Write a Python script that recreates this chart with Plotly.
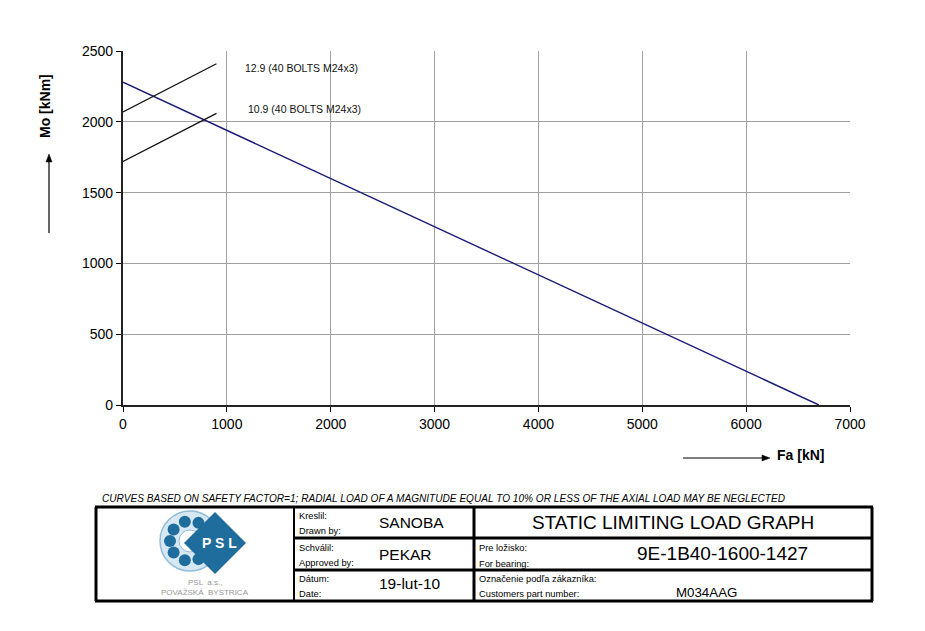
import math
import plotly.graph_objects as go

# ---- data ----
fa_limit = [0, 6700]
mo_limit = [2280, 0]
fa_129 = [0, 900]
mo_129 = [2070, 2410]
fa_109 = [0, 900]
mo_109 = [1720, 2060]
label_129 = "12.9 (40 BOLTS M24x3)"
label_109 = "10.9 (40 BOLTS M24x3)"
x_ticks = [0, 1000, 2000, 3000, 4000, 5000, 6000, 7000]
y_ticks = [0, 500, 1000, 1500, 2000, 2500]

W, H = 925, 631
OFF = 8  # page body margin
L, R, T, B = 123, 850, 51, 405  # plot area in window pixels
FONT = "Liberation Sans, Arial, sans-serif"
BLUE = "#1f6d9c"


def px(x):
    return (x - L) / (R - L)


def py(y):
    return (B - y) / (B - T)


fig = go.Figure()
fig.add_trace(go.Scatter(x=fa_limit, y=mo_limit, mode="lines",
                         line=dict(color="#1a1a78", width=1.4), showlegend=False, hoverinfo="skip"))
fig.add_trace(go.Scatter(x=fa_129, y=mo_129, mode="lines",
                         line=dict(color="#111111", width=1.3), showlegend=False, hoverinfo="skip"))
fig.add_trace(go.Scatter(x=fa_109, y=mo_109, mode="lines",
                         line=dict(color="#111111", width=1.3), showlegend=False, hoverinfo="skip"))

shapes = []
ann = []

# curve labels
ann.append(dict(x=1160, y=2380, xref="x", yref="y", text=label_129, showarrow=False,
                xanchor="left", yanchor="middle", font=dict(size=10.5, family=FONT, color="#111")))
ann.append(dict(x=1180, y=2090, xref="x", yref="y", text=label_109, showarrow=False,
                xanchor="left", yanchor="middle", font=dict(size=10.5, family=FONT, color="#111")))


def txt(x, y, s, size, anchor="left", color="#000", angle=0):
    ann.append(dict(x=px(x), y=py(y), xref="paper", yref="paper", text=s, showarrow=False,
                    xanchor=anchor, yanchor="middle", textangle=angle,
                    font=dict(size=size, family=FONT, color=color)))


# axis titles
txt(45, 106, "<b>Mo [kNm]</b>", 14, "center", angle=-90)
txt(775, 455, "<b>Fa [kN]</b>", 14, "left")

# arrows
shapes.append(dict(type="line", xref="paper", yref="paper", x0=px(49), y0=py(233), x1=px(49), y1=py(162),
                   line=dict(color="#000", width=1.2)))
shapes.append(dict(type="path", xref="paper", yref="paper",
                   path=f"M {px(46)},{py(162)} L {px(52)},{py(162)} L {px(49)},{py(154)} Z",
                   fillcolor="#000", line=dict(color="#000", width=0.5)))
shapes.append(dict(type="line", xref="paper", yref="paper", x0=px(683), y0=py(458), x1=px(762), y1=py(458),
                   line=dict(color="#000", width=1.2)))
shapes.append(dict(type="path", xref="paper", yref="paper",
                   path=f"M {px(762)},{py(455)} L {px(762)},{py(461)} L {px(770)},{py(458)} Z",
                   fillcolor="#000", line=dict(color="#000", width=0.5)))

# note
txt(100, 499, "<i>CURVES BASED ON SAFETY FACTOR=1; RADIAL LOAD OF A MAGNITUDE EQUAL TO 10% OR LESS OF THE AXIAL LOAD MAY BE NEGLECTED</i>", 10.1)

# ---- title block ----
TX0, TX1, TY0, TY1 = 96, 872, 507, 601
C1, C2 = 294, 474
RY1, RY2 = 538, 570


def hline(x0, x1, y, w):
    shapes.append(dict(type="line", xref="paper", yref="paper", x0=px(x0), x1=px(x1), y0=py(y), y1=py(y),
                       line=dict(color="#000", width=w)))


def vline(x, y0, y1, w):
    shapes.append(dict(type="line", xref="paper", yref="paper", x0=px(x), x1=px(x), y0=py(y0), y1=py(y1),
                       line=dict(color="#000", width=w)))


hline(TX0 - 1, TX1 + 1, TY0, 3)
hline(TX0 - 1, TX1 + 1, TY1, 3)
vline(TX0, TY0, TY1, 3)
vline(TX1, TY0, TY1, 3)
vline(C1, TY0, TY1, 2)
vline(C2, TY0, TY1, 3)
hline(C1, TX1, RY1, 3)
hline(C1, TX1, RY2, 3)

SM = 9.3
txt(297, 516, "Kreslil:", SM)
txt(297, 531, "Drawn by:", SM)
txt(411, 522, "SANOBA", 15.5, "center")
txt(297, 548, "Schválil:", SM)
txt(297, 563, "Approved by:", SM)
txt(405, 554, "PEKAR", 15.5, "center")
txt(297, 579, "Dátum:", SM)
txt(297, 594, "Date:", SM)
txt(410, 584, "19-lut-10", 15.5, "center")
txt(673, 522, "STATIC LIMITING LOAD GRAPH", 19, "center")
txt(477, 548, "Pre ložisko:", SM)
txt(477, 564, "For bearing:", SM)
txt(722, 553, "9E-1B40-1600-1427", 19, "center")
txt(477, 579, "Označenie podľa zákazníka:", SM)
txt(477, 594, "Customers part number:", SM)
txt(706, 592, "M034AAG", 13.3, "center")


# ---- logo ----
def circ(cx, cy, r, fill, line_color=None, lw=0):
    shapes.append(dict(type="circle", xref="paper", yref="paper",
                       x0=px(cx - r), x1=px(cx + r), y0=py(cy + r), y1=py(cy - r),
                       fillcolor=fill, line=dict(color=line_color or fill, width=lw)))


rcx, rcy = 190, 541
circ(rcx, rcy, 30, "#d8e8f3", "#8fbcd9", 1.5)
for ang in [65, 105, 145, 180, 215, 255, 295]:
    a = math.radians(ang)
    circ(rcx + 20 * math.cos(a), rcy - 20 * math.sin(a), 6, BLUE)
circ(rcx, rcy, 11, "#ffffff", "#8fbcd9", 1)
dcx, dcy, dr = 215, 543, 31
shapes.append(dict(type="path", xref="paper", yref="paper",
                   path=f"M {px(dcx - dr)},{py(dcy)} L {px(dcx)},{py(dcy - dr)} L {px(dcx + dr)},{py(dcy)} L {px(dcx)},{py(dcy + dr)} Z",
                   fillcolor=BLUE, line=dict(color=BLUE, width=0)))
txt(219, 543, "<b>P S L</b>", 14, "center", "#ffffff")
txt(205, 582, "PSL  a.s.,", 8, "center", "#999999")
txt(205, 592, "POVAŽSKÁ  BYSTRICA", 8, "center", "#999999")

FW, FH = W - 2 * OFF, H - 2 * OFF
fig.update_layout(
    width=FW, height=FH,
    margin=dict(l=L - OFF, r=FW - (R - OFF), t=T - OFF, b=FH - (B - OFF), autoexpand=False),
    paper_bgcolor="#ffffff", plot_bgcolor="#ffffff",
    font=dict(family=FONT, size=14, color="#000"),
    shapes=shapes, annotations=ann, showlegend=False,
    xaxis=dict(range=[0, 7000], tickvals=x_ticks, ticks="outside", ticklen=5, tickcolor="#000",
               showgrid=True, gridcolor="#a0a0a0", gridwidth=0.8, zeroline=False,
               showline=True, linecolor="#222", linewidth=1.5, tickfont=dict(size=14)),
    yaxis=dict(range=[0, 2500], tickvals=y_ticks, ticks="outside", ticklen=5, tickcolor="#000",
               showgrid=True, gridcolor="#a0a0a0", gridwidth=0.8, zeroline=False,
               showline=True, linecolor="#222", linewidth=2.2, tickfont=dict(size=14)),
)

fig.write_html("out.html")
